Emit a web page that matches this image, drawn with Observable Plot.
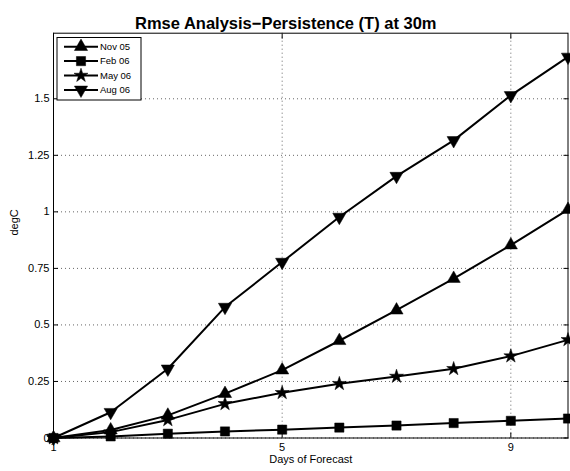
<!DOCTYPE html>
<html>
<head>
<meta charset="utf-8">
<script src="https://cdn.jsdelivr.net/npm/d3@7"></script>
<script src="https://cdn.jsdelivr.net/npm/@observablehq/plot@0.6"></script>
<style>
  html, body { margin: 0; padding: 0; background: #fff; }
  #chart svg { display: block; }
</style>
</head>
<body>
<div id="chart"></div>
<script>
const days  = [1, 2, 3, 4, 5, 6, 7, 8, 9, 10];
const nov05 = [0, 0.035, 0.100, 0.196, 0.300, 0.430, 0.565, 0.705, 0.853, 1.010];
const feb06 = [0, 0.007, 0.019, 0.029, 0.037, 0.046, 0.055, 0.066, 0.076, 0.086];
const may06 = [0, 0.026, 0.080, 0.151, 0.200, 0.240, 0.272, 0.306, 0.362, 0.434];
const aug06 = [0, 0.114, 0.306, 0.579, 0.778, 0.977, 1.158, 1.316, 1.515, 1.685];
const seriesNames = ["Nov 05", "Feb 06", "May 06", "Aug 06"];
const xTicks = [1, 5, 9];
const yTicks = [0, 0.25, 0.5, 0.75, 1, 1.25, 1.5];
const titleText = "Rmse Analysis\u2212Persistence (T) at 30m";
const xLabel = "Days of Forecast";
const yLabel = "degC";

const seriesValues = [nov05, feb06, may06, aug06];
const symbols = [
  {symbol: "triangle", rotate: 0, r: 4.9},
  {symbol: "square", rotate: 0, r: 5.2},
  {symbol: "star", rotate: 0, r: 4.4},
  {symbol: "triangle", rotate: 180, r: 4.9}
];
const table = seriesNames.map((name, i) =>
  days.map((d, j) => ({series: name, day: d, value: seriesValues[i][j]})));

const font = "'Liberation Sans', Arial, Helvetica, sans-serif";
const grid = {stroke: "#666", strokeOpacity: 1, strokeDasharray: "1,3", strokeWidth: 1};
const noText = () => "";

const marks = [
  Plot.gridX(xTicks, grid),
  Plot.gridY(yTicks, grid),
  Plot.axisX(xTicks, {anchor: "bottom", tickSize: 0, tickPadding: 5, fontSize: 11, label: null}),
  Plot.axisX(xTicks, {anchor: "bottom", tickSize: -5, tickFormat: noText, label: null}),
  Plot.axisX(xTicks, {anchor: "top", tickSize: -5, tickFormat: noText, label: null}),
  Plot.axisY(yTicks, {anchor: "left", tickSize: 0, tickPadding: 4, fontSize: 11, tickFormat: d => String(d), label: null}),
  Plot.axisY(yTicks, {anchor: "left", tickSize: -5, tickFormat: noText, label: null}),
  Plot.axisY(yTicks, {anchor: "right", tickSize: -5, tickFormat: noText, label: null})
];
table.forEach((rows, i) => {
  marks.push(Plot.line(rows, {x: "day", y: "value", stroke: "black", strokeWidth: 2}));
  marks.push(Plot.dot(rows, {x: "day", y: "value", symbol: symbols[i].symbol, rotate: symbols[i].rotate, r: symbols[i].r, fill: "black", stroke: "black", strokeWidth: 0.5}));
});
marks.push(Plot.frame({stroke: "black", strokeWidth: 1}));
marks.push(Plot.text([titleText], {frameAnchor: "top", dx: -25, dy: -16, fontSize: 16.5, fontWeight: "bold", fill: "black"}));
marks.push(Plot.text([xLabel], {frameAnchor: "bottom", dy: 25, fontSize: 11, fill: "black"}));
marks.push(Plot.text([yLabel], {frameAnchor: "left", dx: -39, rotate: -90, fontSize: 11, fill: "black"}));

const chart = Plot.plot({
  width: 570,
  height: 471,
  marginLeft: 53,
  marginRight: 2.5,
  marginTop: 32.7,
  marginBottom: 33.5,
  style: {fontFamily: font, fontSize: "11px", color: "black", background: "white"},
  x: {domain: [1, 10]},
  y: {domain: [0, 1.79]},
  marks
});
document.getElementById("chart").appendChild(chart);

// Legend (inside plot, upper left)
const svg = d3.select(chart);
const lg = svg.append("g").attr("font-family", font).attr("text-anchor", "start");
lg.append("rect").attr("x", 57).attr("y", 37.5).attr("width", 84).attr("height", 62.5)
  .attr("fill", "white").attr("stroke", "black").attr("stroke-width", 1);
seriesNames.forEach((name, i) => {
  const y = 46.7 + i * 14.4;
  lg.append("line").attr("x1", 64).attr("x2", 98).attr("y1", y).attr("y2", y)
    .attr("stroke", "black").attr("stroke-width", 2);
  const s = symbols[i];
  const sym = {triangle: d3.symbolTriangle, square: d3.symbolSquare, star: d3.symbolStar}[s.symbol];
  lg.append("path").attr("d", d3.symbol(sym, Math.PI * s.r * s.r)())
    .attr("transform", `translate(81,${y}) rotate(${s.rotate})`)
    .attr("fill", "black").attr("stroke", "black").attr("stroke-width", 0.5);
  lg.append("text").attr("x", 100).attr("y", y).attr("dy", "0.35em")
    .attr("text-anchor", "start").attr("font-size", 9.5).attr("fill", "black").text(name);
});
</script>
</body>
</html>
